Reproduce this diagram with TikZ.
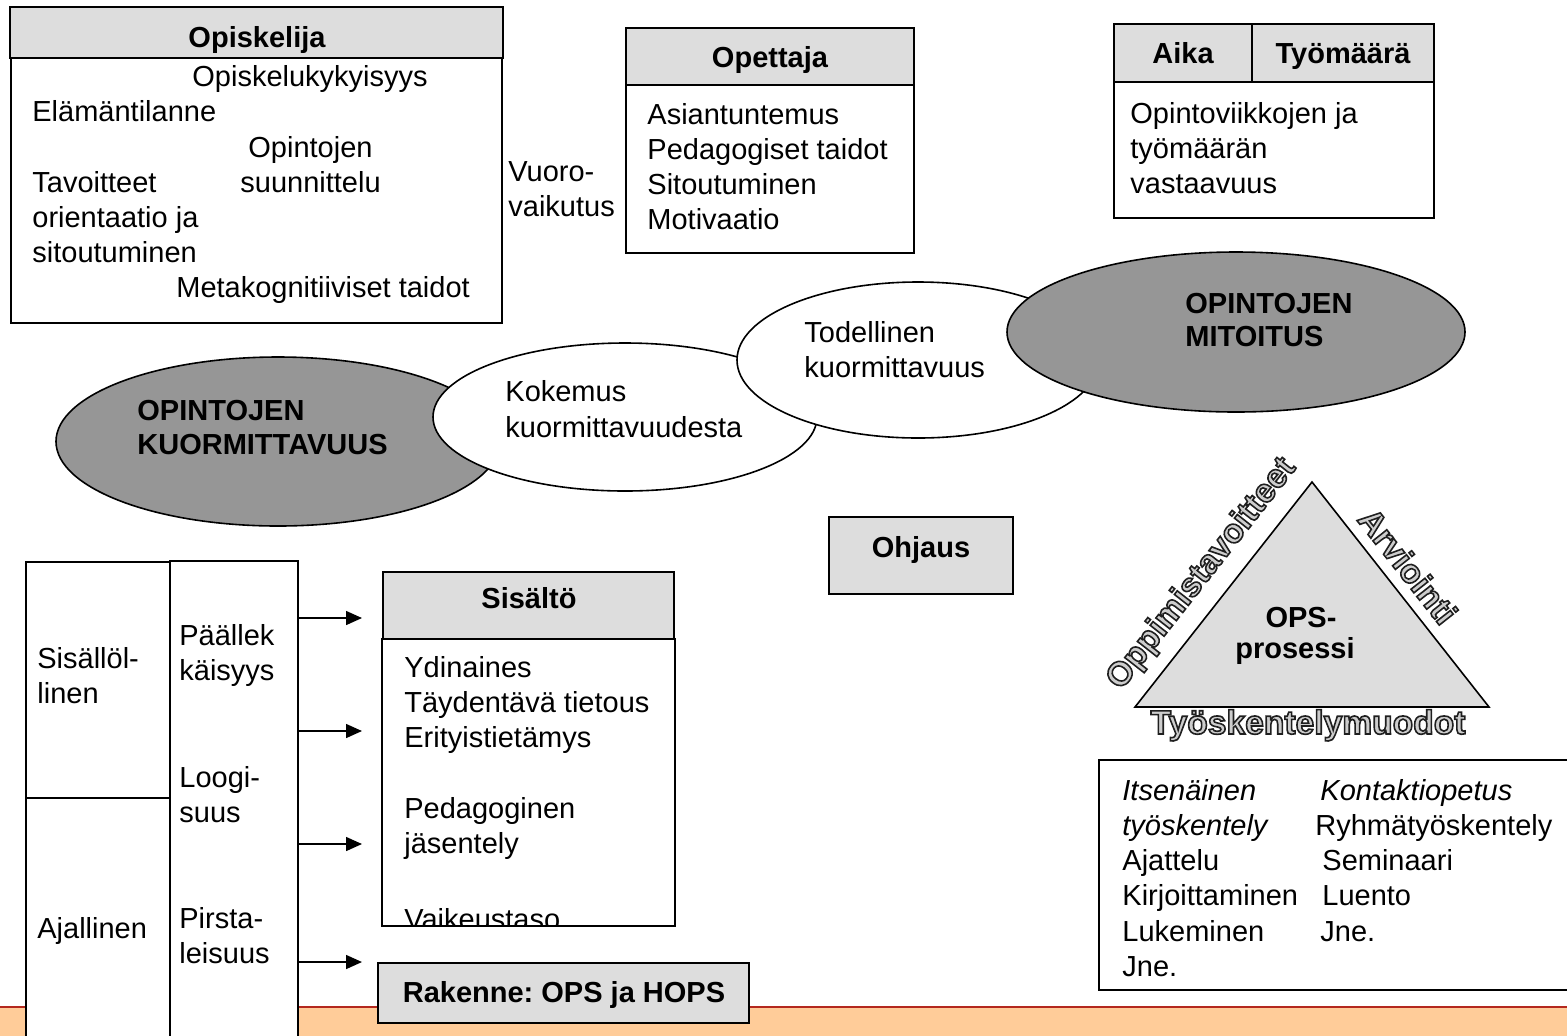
\documentclass[tikz,border=0pt]{standalone}
\usepackage{fontspec}
\setmainfont{Liberation Sans}
\usetikzlibrary{shapes.geometric,arrows.meta}
\definecolor{hdrgray}{RGB}{221,221,221}
\definecolor{elgray}{RGB}{150,150,150}
\definecolor{bandorange}{RGB}{255,204,153}
\definecolor{bandred}{RGB}{180,40,30}
\definecolor{outfill}{RGB}{205,205,205}
\newcommand\fsz{\fontsize{14.5}{17.75}\selectfont}
\newcommand\outl[1]{{\color{outfill}\special{pdf:literal direct 0.12 0.12 0.12 RG 0.8 w 2 Tr}#1\special{pdf:literal direct 0 Tr}}}
\frenchspacing
\begin{document}
\begin{tikzpicture}[x=0.5pt,y=-0.5pt,
  font=\fsz,
  bx/.style={draw, line width=1pt, fill=white, rectangle, inner sep=0pt, outer sep=0pt, anchor=north west},
  hbx/.style={bx, fill=hdrgray},
  ell/.style={draw, line width=0.8pt, ellipse, inner sep=0pt, fill=white},
  gell/.style={ell, fill=elgray},
  txt/.style={anchor=base west, inner sep=0pt, font=\fsz},
  btxt/.style={anchor=base, inner sep=0pt, font=\fsz\bfseries},
  bltxt/.style={anchor=base west, inner sep=0pt, font=\fsz\bfseries},
  itxt/.style={anchor=base west, inner sep=0pt, font=\fsz\itshape},
  arr/.style={line width=0.75pt, -{Triangle[length=8pt,width=7pt]}},
  otxt/.style={inner sep=0pt, font=\fontsize{16.8}{20}\selectfont\bfseries}
]
\useasboundingbox (0,0) rectangle (1567,1035);

% bottom band
\fill[bandorange] (-10,1008) rectangle (1580,1045);
\draw[bandred, line width=1.2pt] (-10,1007) -- (1580,1007);

% Opiskelija
\node[bx, minimum width=245.5pt, minimum height=132.5pt] (opisB) at (11,58) {};
\node[hbx, minimum width=246.5pt, minimum height=25.5pt] (opisH) at (10,7) {};
\node[btxt] (opisT) at (257,47) {Opiskelija};
\foreach \n/\x/\y/\s in {op1/192/86/Opiskelukykyisyys, op2/32/121/Elämäntilanne,
  op3/248/157/Opintojen, op4/32/192/Tavoitteet, op5/240/192/suunnittelu,
  op6/32/227/orientaatio ja, op7/32/262/sitoutuminen, op8/176/297/Metakognitiiviset taidot,
  vu1/508/181/Vuoro-, vu2/508/216/vaikutus}
  \node[txt] (\n) at (\x,\y) {\s};

% Opettaja
\node[bx, minimum width=144pt, minimum height=84pt] (opetB) at (626,85) {};
\node[hbx, minimum width=144pt, minimum height=28.5pt] (opetH) at (626,28) {};
\node[btxt] (opetT) at (770,67) {Opettaja};
\foreach \n/\y/\s in {pe1/124/Asiantuntemus, pe2/159/Pedagogiset taidot,
  pe3/194/Sitoutuminen, pe4/229/Motivaatio}
  \node[txt] (\n) at (647,\y) {\s};

% Aika / Tyomaara
\node[bx, minimum width=160pt, minimum height=68pt] (aikaB) at (1114,82) {};
\node[hbx, minimum width=69pt, minimum height=29pt] (aikaH) at (1114,24) {};
\node[hbx, minimum width=91pt, minimum height=29pt] (tyoH) at (1252,24) {};
\node[btxt] (aikaT) at (1183,63) {Aika};
\node[btxt] (tyoT) at (1343,63) {Työmäärä};
\foreach \n/\y/\s in {ai1/123/Opintoviikkojen ja, ai2/158/työmäärän, ai3/193/vastaavuus}
  \node[txt] (\n) at (1130,\y) {\s};

% ellipses
\node[gell, minimum width=222pt, minimum height=84.5pt] (g1) at (278,441.5) {};
\node[ell, minimum width=192pt, minimum height=74pt] (kok) at (625,417) {};
\node[ell, minimum width=181pt, minimum height=78pt] (tod) at (918,360) {};
\node[gell, minimum width=229pt, minimum height=80pt] (g2) at (1236,332) {};
\node[bltxt] (g1a) at (137,420) {OPINTOJEN};
\node[bltxt] (g1b) at (137,454) {KUORMITTAVUUS};
\node[txt] (koa) at (505,401) {Kokemus};
\node[txt] (kob) at (505,437) {kuormittavuudesta};
\node[txt] (toa) at (804,342) {Todellinen};
\node[txt] (tob) at (804,377) {kuormittavuus};
\node[bltxt] (g2a) at (1185,313) {OPINTOJEN};
\node[bltxt] (g2b) at (1185,346) {MITOITUS};

% Ohjaus
\node[hbx, minimum width=92pt, minimum height=38.5pt] (ohj) at (829,517) {};
\node[btxt] (ohjT) at (921,557) {Ohjaus};

% triangle
\coordinate (apex) at (1312,482);
\coordinate (bl) at (1135,707);
\coordinate (br) at (1489,707);
\filldraw[fill=hdrgray, line width=0.8pt] (apex) -- (bl) -- (br) -- cycle;
\node[btxt] (ops1) at (1301,627) {OPS-};
\node[btxt] (ops2) at (1295,658) {prosessi};
\node[otxt, rotate=51.8] (ot1) at (1202,574) {\outl{Oppimistavoitteet}};
\node[otxt, rotate=-51.8] (ot2) at (1408,566) {\outl{Arviointi}};
\node[otxt, anchor=base] (ot3) at (1308,734) {\outl{Työskentelymuodot}};

% bottom right box
\node[bx, minimum width=238pt, minimum height=115pt] (rb) at (1099,760) {};
\node[itxt] (rb1) at (1122,800) {Itsenäinen};
\node[itxt] (rb2) at (1122,835) {työskentely};
\node[itxt] (rb3) at (1320,800) {Kontaktiopetus};
\foreach \n/\x/\y/\s in {rb4/1315/835/Ryhmätyöskentely, rb5/1122/870/Ajattelu,
  rb6/1322/870/Seminaari, rb7/1122/905/Kirjoittaminen, rb8/1322/905/Luento,
  rb9/1122/941/Lukeminen, rb10/1320/941/Jne., rb11/1122/976/Jne.}
  \node[txt] (\n) at (\x,\y) {\s};

% left structure
\node[bx, minimum width=72pt, minimum height=118pt] (lc1) at (26,562) {};
\node[bx, minimum width=72pt, minimum height=125pt] (lc2) at (26,798) {};
\node[bx, minimum width=64pt, minimum height=245pt] (mc) at (170,561) {};
\foreach \n/\x/\y/\s in {ls1/37/668/Sisällöl-, ls2/37/703/linen, ls3/37/938/Ajallinen,
  ms1/179/645/Päällek, ms2/179/680/käisyys, ms3/179/787/Loogi-, ms4/179/822/suus,
  ms5/179/928/Pirsta-, ms6/179/963/leisuus}
  \node[txt] (\n) at (\x,\y) {\s};

% arrows
\coordinate (ae1) at (362,618);
\coordinate (ae2) at (362,731);
\coordinate (ae3) at (362,844);
\coordinate (ae4) at (362,962);
\foreach \a in {ae1,ae2,ae3,ae4}
  \draw[arr] (mc.east |- \a) -- (\a);

% Sisalto
\node[bx, minimum width=146.5pt, minimum height=143.5pt] (sisB) at (382,639) {};
\node[hbx, minimum width=145.5pt, minimum height=33.5pt] (sisH) at (383,572) {};
\node[btxt] (sisT) at (529,608) {Sisältö};
\begin{scope}
  \clip (382,639) rectangle (675,926);
  \foreach \n/\y/\s in {si1/677/Ydinaines, si2/712/Täydentävä tietous, si3/747/Erityistietämys,
    si4/818/Pedagoginen, si5/853/jäsentely, si6/929/Vaikeustaso}
    \node[txt] (\n) at (404,\y) {\s};
\end{scope}
\draw[line width=1pt] (sisB.south west) -- (sisB.south east);

% Rakenne
\node[hbx, minimum width=185.5pt, minimum height=30pt] (rak) at (378,963) {};
\node[btxt] (rakT) at (564,1002) {Rakenne: OPS ja HOPS};
\end{tikzpicture}
\end{document}
